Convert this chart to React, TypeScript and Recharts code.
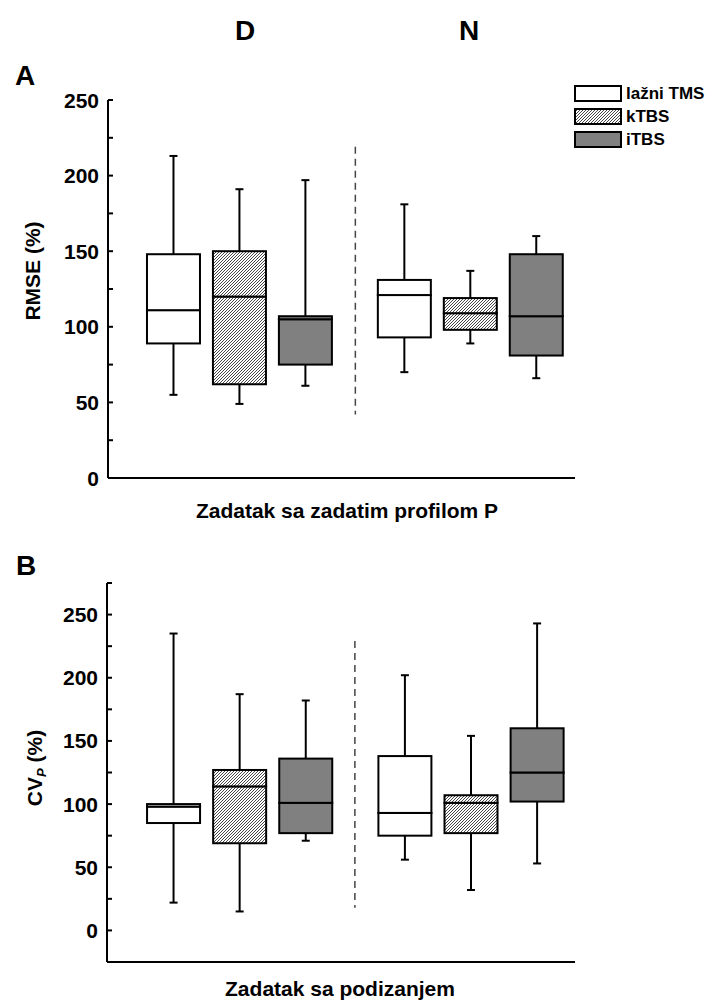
import { Bar, ComposedChart, ReferenceLine, XAxis, YAxis } from "recharts";

// order: D (lažni TMS, kTBS, iTBS), then N (lažni TMS, kTBS, iTBS)
const conditions = ["D", "N"];
const treatments = ["lažni TMS", "kTBS", "iTBS"];

// A: RMSE (%)
const rmseMin = [55, 49, 61, 70, 89, 66];
const rmseQ1 = [89, 62, 75, 93, 98, 81];
const rmseMed = [111, 120, 105, 121, 109, 107];
const rmseQ3 = [148, 150, 107, 131, 119, 148];
const rmseMax = [213, 191, 197, 181, 137, 160];

// B: CVp (%)
const cvMin = [22, 15, 71, 56, 32, 53];
const cvQ1 = [85, 69, 77, 75, 77, 102];
const cvMed = [98, 114, 101, 93, 101, 125];
const cvQ3 = [100, 127, 136, 138, 107, 160];
const cvMax = [235, 187, 182, 202, 154, 243];

const ticksA = [0, 25, 50, 75, 100, 125, 150, 175, 200, 225, 250];
const ticksB = [-25, 0, 25, 50, 75, 100, 125, 150, 175, 200, 225, 250, 275];

const FONT = "'Liberation Sans', Arial, Helvetica, sans-serif";
const fills = ["#ffffff", "url(#hatch)", "#808080"];

function buildRows(min: number[], q1: number[], med: number[], q3: number[], max: number[]) {
  return min.map((m, i) => {
    const ci = Math.floor(i / treatments.length);
    const gi = i % treatments.length;
    return {
      name: `${conditions[ci]} ${treatments[gi]}`,
      x: ci * 3.5 + gi + 1,
      treatment: gi,
      base: m,
      lw: q1[i] - m,
      lb: med[i] - q1[i],
      ub: q3[i] - med[i],
      uw: max[i] - q3[i],
    };
  });
}

const rowsA = buildRows(rmseMin, rmseQ1, rmseMed, rmseQ3, rmseMax);
const rowsB = buildRows(cvMin, cvQ1, cvMed, cvQ3, cvMax);

const Empty = () => <g />;

const BoxPart = (props: any) => {
  const { x, y, width, height, payload } = props;
  return (
    <rect
      x={x}
      y={y}
      width={width}
      height={height}
      fill={fills[payload.treatment]}
      stroke="#000"
      strokeWidth={2}
    />
  );
};

const LowerWhisker = (props: any) => {
  const { x, y, width, height } = props;
  const cx = x + width / 2;
  const yb = y + height;
  return (
    <g stroke="#000" strokeWidth={2}>
      <line x1={cx} x2={cx} y1={y} y2={yb} />
      <line x1={cx - 4} x2={cx + 4} y1={yb} y2={yb} />
    </g>
  );
};

const UpperWhisker = (props: any) => {
  const { x, y, width, height } = props;
  const cx = x + width / 2;
  return (
    <g stroke="#000" strokeWidth={2}>
      <line x1={cx} x2={cx} y1={y} y2={y + height} />
      <line x1={cx - 4} x2={cx + 4} y1={y} y2={y} />
    </g>
  );
};

const YTick = (props: any) => {
  const { x, y, payload } = props;
  if (payload.value % 50 !== 0) return <g />;
  return (
    <text x={x} y={y} dy="0.36em" textAnchor="end" fontSize={21} fontWeight="bold" fontFamily={FONT} fill="#000">
      {payload.value}
    </text>
  );
};

function BoxChart({ rows, domain, ticks, height, margin, sep }: any) {
  return (
    <ComposedChart width={716} height={height} data={rows} margin={margin}>
      <XAxis
        type="number"
        dataKey="x"
        domain={[0, 7.08]}
        allowDataOverflow
        tick={false}
        tickLine={false}
        height={2}
        axisLine={{ stroke: "#000", strokeWidth: 2 }}
      />
      <YAxis
        type="number"
        domain={domain}
        ticks={ticks}
        interval={0}
        allowDataOverflow
        width={60}
        tickSize={-5}
        tickMargin={14}
        tick={<YTick />}
        axisLine={{ stroke: "#000", strokeWidth: 2 }}
        tickLine={{ stroke: "#000", strokeWidth: 2 }}
      />
      <ReferenceLine
        segment={[{ x: 3.75, y: sep[0] }, { x: 3.75, y: sep[1] }]}
        stroke="#444"
        strokeWidth={1.5}
        strokeDasharray="7 5"
      />
      <Bar dataKey="base" stackId="b" barSize={53} shape={<Empty />} isAnimationActive={false} />
      <Bar dataKey="lw" stackId="b" barSize={53} shape={<LowerWhisker />} isAnimationActive={false} />
      <Bar dataKey="lb" stackId="b" barSize={53} shape={<BoxPart />} isAnimationActive={false} />
      <Bar dataKey="ub" stackId="b" barSize={53} shape={<BoxPart />} isAnimationActive={false} />
      <Bar dataKey="uw" stackId="b" barSize={53} shape={<UpperWhisker />} isAnimationActive={false} />
    </ComposedChart>
  );
}

export default function App() {
  const bold = { fontFamily: FONT, fontWeight: "bold" as const, fill: "#000" };
  return (
    <div style={{ position: "absolute", left: 0, top: 0, width: 716, height: 1006, background: "#fff" }}>
      <div style={{ position: "absolute", left: 0, top: 0 }}>
        <BoxChart
          rows={rowsA}
          domain={[0, 250]}
          ticks={ticksA}
          height={540}
          margin={{ top: 100, right: 141, bottom: 60, left: 48 }}
          sep={[219, 42]}
        />
      </div>
      <div style={{ position: "absolute", left: 0, top: 540 }}>
        <BoxChart
          rows={rowsB}
          domain={[-25, 275]}
          ticks={ticksB}
          height={466}
          margin={{ top: 43, right: 141, bottom: 42, left: 47 }}
          sep={[229, 18]}
        />
      </div>
      <svg
        width={716}
        height={1006}
        style={{ position: "absolute", left: 0, top: 0, pointerEvents: "none" }}
      >
        <defs>
          <pattern id="hatch" patternUnits="userSpaceOnUse" width="3" height="3">
            <rect width="3" height="3" fill="#fff" />
            <path d="M-1,1 l2,-2 M0,3 l3,-3 M2,4 l2,-2" stroke="#333" strokeWidth="0.9" />
          </pattern>
        </defs>
        <text x={245} y={40} textAnchor="middle" fontSize={28} {...bold}>D</text>
        <text x={469} y={40} textAnchor="middle" fontSize={28} {...bold}>N</text>
        <text x={25} y={85} textAnchor="middle" fontSize={28} {...bold}>A</text>
        <text x={26} y={575} textAnchor="middle" fontSize={28} {...bold}>B</text>

        <text transform="translate(40,271) rotate(-90)" textAnchor="middle" fontSize={21} {...bold}>RMSE (%)</text>
        <text transform="translate(42,768) rotate(-90)" textAnchor="middle" fontSize={21} {...bold}>
          CV<tspan fontSize={13} fontStyle="italic" dy={4}>P</tspan>
          <tspan dy={-4}> (%)</tspan>
        </text>

        <text x={347} y={518} textAnchor="middle" fontSize={21} {...bold}>Zadatak sa zadatim profilom P</text>
        <text x={340} y={996} textAnchor="middle" fontSize={21} {...bold}>Zadatak sa podizanjem</text>

        {treatments.map((t, i) => (
          <g key={t}>
            <rect x={575} y={86 + i * 23} width={46} height={15} fill={fills[i]} stroke="#000" strokeWidth={2} />
            <text x={626} y={99 + i * 23} fontSize={17} {...bold}>{t}</text>
          </g>
        ))}
      </svg>
    </div>
  );
}
